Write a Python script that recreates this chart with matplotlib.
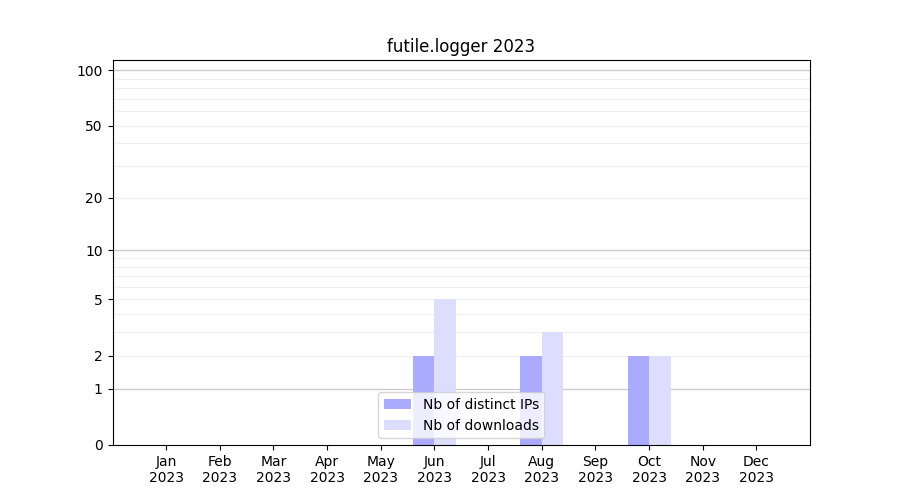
import numpy as np
import matplotlib
matplotlib.use("Agg")
import matplotlib.pyplot as plt

months = ["Jan\n2023", "Feb\n2023", "Mar\n2023", "Apr\n2023", "May\n2023", "Jun\n2023",
          "Jul\n2023", "Aug\n2023", "Sep\n2023", "Oct\n2023", "Nov\n2023", "Dec\n2023"]
distinct_ips = [0, 0, 0, 0, 0, 2, 0, 2, 0, 2, 0, 0]
downloads = [0, 0, 0, 0, 0, 5, 0, 3, 0, 2, 0, 0]
yticks = [0, 1, 2, 5, 10, 20, 50, 100]
major_grid = [1, 10, 100]
minor_grid = [2, 3, 4, 5, 6, 7, 8, 9, 20, 30, 40, 50, 60, 70, 80, 90]

fig, ax = plt.subplots(figsize=(9, 5), dpi=100)
ax.set_yscale("function", functions=(lambda v: np.log10(1 + np.clip(v, 0, None)),
                                     lambda v: 10 ** v - 1))
x = np.arange(1, len(months) + 1)

for g in minor_grid:
    ax.axhline(g, color="#eeeeee", lw=0.8, zorder=0)
for g in major_grid:
    ax.axhline(g, color="#cccccc", lw=1.0, zorder=0)

ax.bar(x, distinct_ips, width=-0.4, align="edge", color="#aaaaff", label="Nb of distinct IPs", zorder=2)
ax.bar(x, downloads, width=0.4, align="edge", color="#ddddff", label="Nb of downloads", zorder=2)

ax.set_xticks(x)
ax.set_xticklabels(months)
ax.set_yticks(yticks)
ax.set_yticklabels([str(t) for t in yticks])
ax.minorticks_off()
ax.set_xlim(0, 13)
ax.set_ylim(0, 113.5)
ax.set_title("futile.logger 2023")
ax.legend(loc="lower center")

fig.savefig("out.png", dpi=100)
